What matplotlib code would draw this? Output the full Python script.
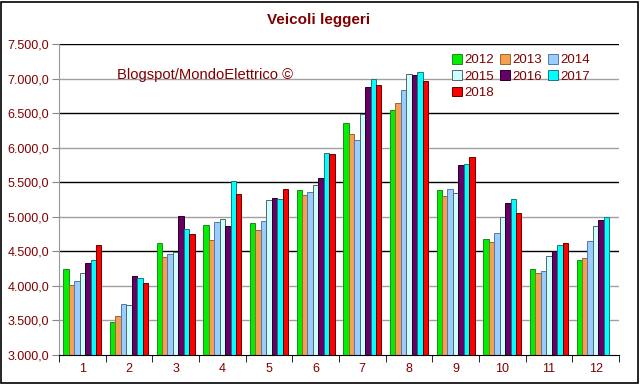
import matplotlib
matplotlib.use("Agg")
import matplotlib.pyplot as plt
import numpy as np
from matplotlib.patches import Rectangle
from matplotlib.ticker import FixedLocator, FuncFormatter

plt.rcParams["font.family"] = ["Liberation Sans", "DejaVu Sans"]

months = [str(m) for m in range(1, 13)]
years = ["2012", "2013", "2014", "2015", "2016", "2017", "2018"]

v2012 = [4245, 3483, 4617, 4882, 4910, 5382, 6354, 6547, 5381, 4684, 4245, 4380]
v2013 = [4013, 3560, 4419, 4665, 4810, 5310, 6200, 6648, 5304, 4631, 4182, 4404]
v2014 = [4071, 3743, 4458, 4925, 4939, 5353, 6113, 6836, 5395, 4766, 4211, 4646]
v2015 = [4182, 3724, 4491, 4968, 5247, 5459, 6494, 7072, 5347, 5003, 4438, 4868]
v2016 = [4337, 4144, 5013, 4867, 5267, 5560, 6875, 7058, 5742, 5201, 4501, 4959]
v2017 = [4371, 4120, 4820, 5517, 5257, 5921, 6995, 7096, 5766, 5254, 4588, 5003]
v2018 = [4588, 4042, 4752, 5334, 5406, 5902, 6908, 6966, 5867, 5061, 4626, np.nan]

series = [v2012, v2013, v2014, v2015, v2016, v2017, v2018]
colors = ["#00ee00", "#f5a050", "#99ccff", "#ccffff", "#660066", "#00ffff", "#ff0000"]
edges = ["#228822", "#996633", "#5577aa", "#556666", "#220022", "#227777", "#660000"]

text_col = "#800000"

fig = plt.figure(figsize=(6.4, 3.84), dpi=100)
ax = fig.add_axes([59 / 640, 1 - 355 / 384, 560 / 640, 311 / 384])

x = np.arange(len(months))
w = 0.117
for i, (vals, c, ec, lab) in enumerate(zip(series, colors, edges, years)):
    ax.bar(x + (i - 3) * w, vals, width=w, color=c, edgecolor=ec, linewidth=0.7,
           label=lab, zorder=3)

ax.set_ylim(3000, 7500)
ax.set_xlim(-0.5, len(months) - 0.5)

levels = np.arange(3500, 7501, 500)
for lv in levels:
    col = "black" if lv in (4500, 5500, 6500, 7500) else "#a0a0a0"
    ax.axhline(lv, color=col, lw=1.0, zorder=1)

ax.yaxis.set_major_locator(FixedLocator(np.arange(3000, 7501, 500)))
ax.yaxis.set_major_formatter(FuncFormatter(
    lambda v, p: f"{v:,.1f}".replace(",", "X").replace(".", ",").replace("X", ".")))
ax.tick_params(axis="y", direction="out", length=5, color="#888888",
               labelcolor=text_col, labelsize=9, pad=2)

ax.set_xticks(x)
ax.set_xticklabels(months)
ax.set_xticks(np.arange(-0.5, len(months)), minor=True)
ax.tick_params(axis="x", which="major", length=0, labelcolor=text_col, labelsize=9, pad=6)
ax.tick_params(axis="x", which="minor", direction="out", length=5, color="black")

for s in ("top", "right"):
    ax.spines[s].set_visible(False)
ax.spines["left"].set_color("#999999")
ax.spines["bottom"].set_color("black")
ax.spines["bottom"].set_zorder(4)

fig.text(319 / 640, 1 - 20 / 384, "Veicoli leggeri", ha="center", va="center",
         fontsize=11, fontweight="bold", color=text_col)
ax.text(117 / 640, 1 - 75 / 384, "Blogspot/MondoElettrico \u00a9", transform=fig.transFigure,
        ha="left", va="center", fontsize=10.6, color=text_col, zorder=5)

# legend filled row by row: 2012 2013 2014 / 2015 2016 2017 / 2018
handles, labels = ax.get_legend_handles_labels()
order = [0, 3, 6, 1, 4, 2, 5]
leg = ax.legend([handles[k] for k in order], [labels[k] for k in order],
                loc="upper left", bbox_to_anchor=(452 / 640, 1 - 54 / 384),
                bbox_transform=fig.transFigure, ncol=3, frameon=False, fontsize=9.5,
                handlelength=0.75, handleheight=0.75, handletextpad=0.15,
                columnspacing=0.5, labelspacing=0.3, borderpad=0, borderaxespad=0,
                labelcolor=text_col)
leg.set_zorder(6)

fig.patches.append(Rectangle((1 / 640, 1 / 384), 637 / 640, 381 / 384, transform=fig.transFigure,
                             fill=False, edgecolor="black", lw=1.2))

fig.savefig("out.png", dpi=100)
